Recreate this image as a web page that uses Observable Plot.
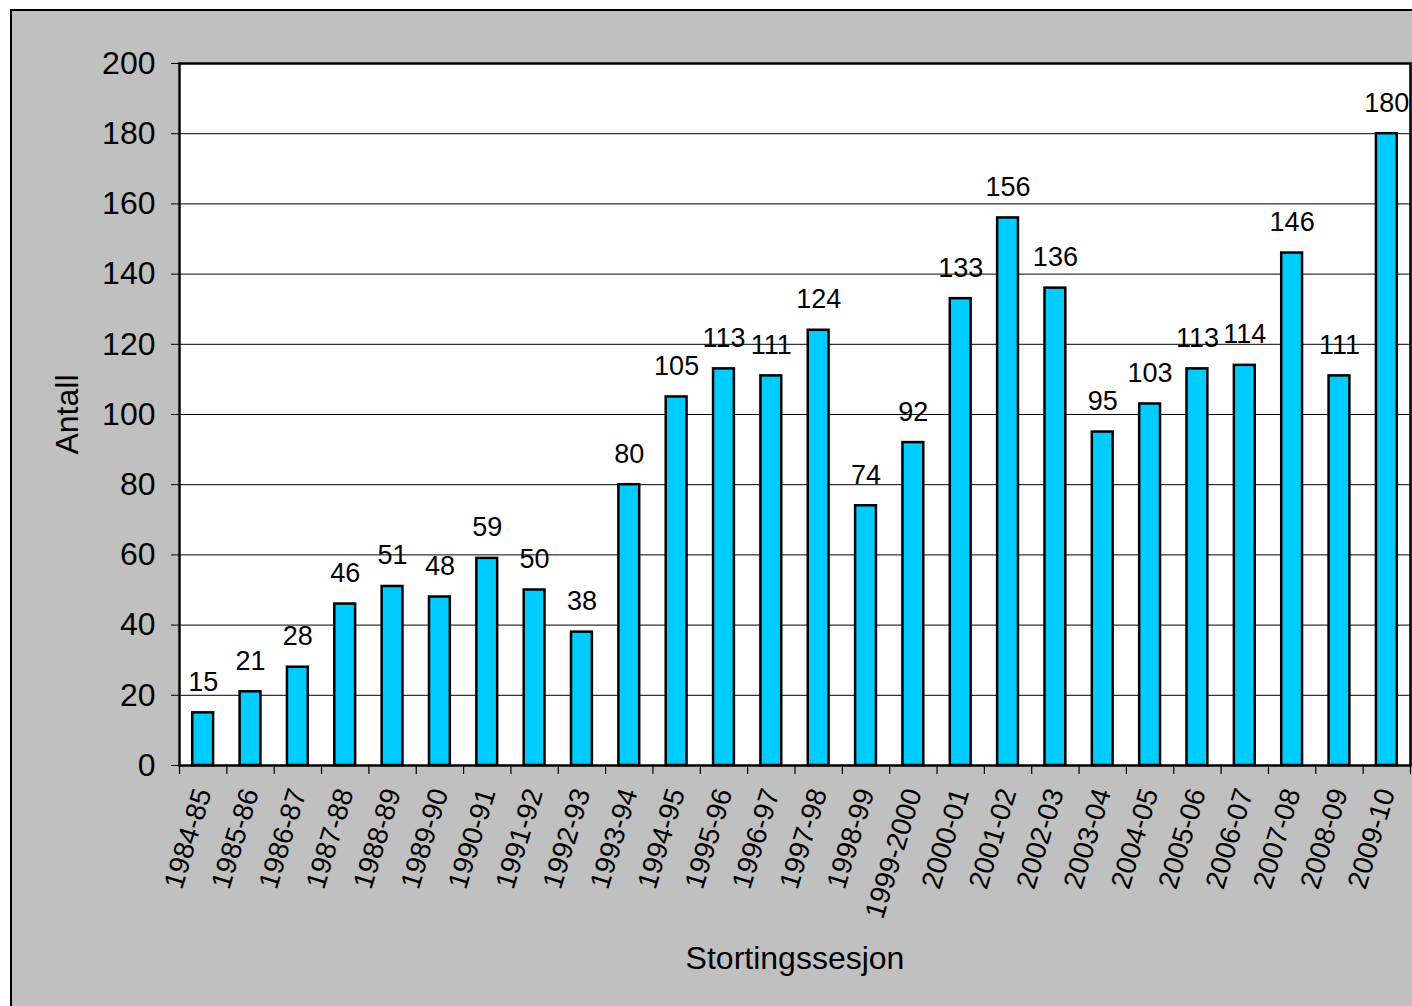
<!DOCTYPE html>
<html>
<head>
<meta charset="utf-8">
<script src="https://cdn.jsdelivr.net/npm/d3@7"></script>
<script src="https://cdn.jsdelivr.net/npm/@observablehq/plot@0.6"></script>
<style>
  html, body { margin: 0; padding: 0; background: #fff; overflow: hidden; width: 1412px; height: 1006px; }
  #box { position: absolute; left: 10px; top: 9px; width: 1420px; height: 1020px; background: #c0c0c0; border: 2px solid #000; }
  #chart { position: absolute; left: 0; top: 0; }
</style>
</head>
<body>
<div id="box"></div>
<div id="chart"></div>
<script>
const sessions = ["1984-85","1985-86","1986-87","1987-88","1988-89","1989-90","1990-91","1991-92","1992-93","1993-94","1994-95","1995-96","1996-97","1997-98","1998-99","1999-2000","2000-01","2001-02","2002-03","2003-04","2004-05","2005-06","2006-07","2007-08","2008-09","2009-10"];
const counts = [15,21,28,46,51,48,59,50,38,80,105,113,111,124,74,92,133,156,136,95,103,113,114,146,111,180];
const yTicks = [0,20,40,60,80,100,120,140,160,180,200];
const gridValues = [20,40,60,80,100,120,140,160,180];
const xTitle = "Stortingssesjon";
const yTitle = "Antall";

const data = sessions.map((s, i) => ({session: s, count: counts[i]}));

const W = 1412, H = 1006, ML = 179, MR = 2, MT = 63, MB = 241;
const step = (W - ML - MR) / sessions.length;
const tickLen = 9 * 200 / (H - MT - MB);
const font = "'Liberation Sans', Arial, sans-serif";

const chart = Plot.plot({
  width: W, height: H,
  marginLeft: ML, marginRight: MR, marginTop: MT, marginBottom: MB,
  style: {background: "transparent", fontFamily: font, color: "#000", overflow: "visible"},
  x: {type: "band", domain: sessions, paddingInner: 0.56, paddingOuter: 0.28, round: false},
  y: {domain: [0, 200]},
  marks: [
    Plot.frame({fill: "white", stroke: null}),
    Plot.ruleY(gridValues, {stroke: "#000", strokeWidth: 1}),
    Plot.barY(data, {x: "session", y: "count", fill: "#00ccff", stroke: "#000", strokeWidth: 2.5}),
    Plot.text(data, {x: "session", y: "count", text: d => String(d.count), lineAnchor: "bottom", dy: -22, fontSize: 27, fill: "#000"}),
    Plot.frame({stroke: "#000", strokeWidth: 2.5}),
    Plot.ruleX(data, {x: "session", y1: 0, y2: -tickLen, dx: -step / 2, stroke: "#000", strokeWidth: 1.2}),
    Plot.ruleX(data.slice(-1), {x: "session", y1: 0, y2: -tickLen, dx: step / 2, stroke: "#000", strokeWidth: 1.2}),
    Plot.axisY({ticks: yTicks, tickSize: 8, tickPadding: 16, fontSize: 32, label: null}),
    Plot.axisX({tickSize: 0, tickPadding: 24, tickRotate: -73, fontSize: 28, label: null}),
    Plot.text([xTitle], {frameAnchor: "bottom", dy: 193, lineAnchor: "middle", fontSize: 32, fill: "#000"}),
    Plot.text([yTitle], {frameAnchor: "left", dx: -112, rotate: -90, textAnchor: "middle", lineAnchor: "middle", fontSize: 32, fill: "#000"})
  ]
});
document.getElementById("chart").appendChild(chart);
</script>
</body>
</html>
